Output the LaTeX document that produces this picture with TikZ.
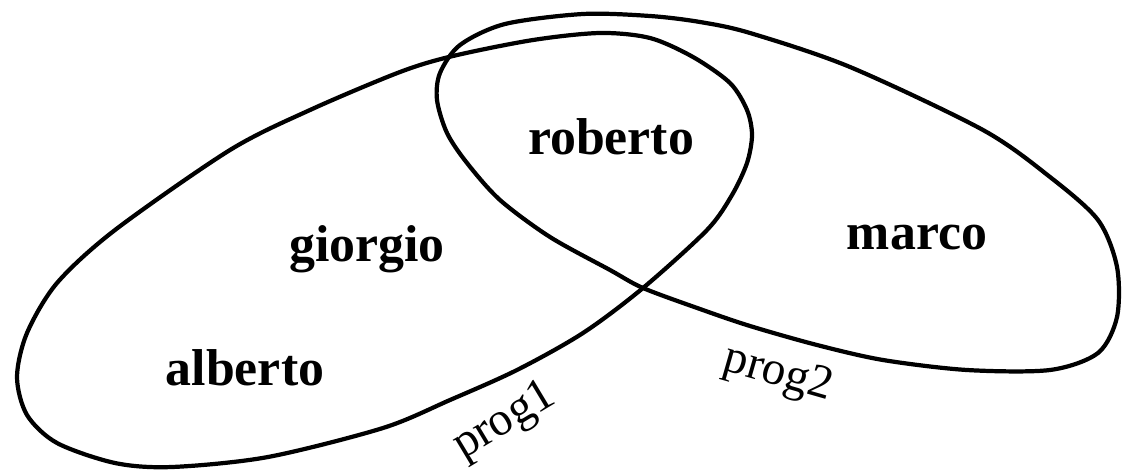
\documentclass[tikz,border=0pt]{standalone}
\usepackage{fontspec}
\setmainfont{Liberation Serif}
\begin{document}
\begin{tikzpicture}[x=0.02cm,y=-0.02cm]
        \tikzset{person/.style = {font=\fontsize{29.5}{31}\selectfont\bfseries}}
        \tikzset{setlabel/.style = {font=\fontsize{27}{29}\selectfont}}
        \tikzset{border/.style = {line width=2.4pt, line join=round}}
        \useasboundingbox (0,0) rectangle (1122,470);

        % prog1
        \draw[border] plot[smooth cycle, tension=0.5] coordinates {
            (600,33) (650,38) (693,57) (730,83) (747,110) (752,135) (747,163)
            (732,195) (707,230) (643,288) (583,333) (517,370) (450,400)
            (383,428) (268,457) (172,467) (115,463) (57,443) (27,415)
            (17,377) (27,333) (57,283) (115,230) (230,150) (310,110)
            (400,72) (453,56) (533,40)};
        % prog2
        \draw[border] plot[smooth cycle, tension=0.5] coordinates {
            (583,14) (650,16) (700,22) (750,33) (850,67) (983,130)
            (1050,177) (1098,220) (1117,267) (1117,317) (1098,353)
            (1050,370) (967,370) (883,360) (817,345) (750,326) (700,309)
            (643,288) (610,270) (550,237) (500,200) (467,163) (447,133)
            (437,100) (440,73) (460,45) (505,24)};

        \node[person] (roberto) at (611,137) {roberto};
        \node[person] (giorgio) at (367,249) {giorgio};
        \node[person] (marco) at (917,237) {marco};
        \node[person] (alberto) at (245,368) {alberto};

        \node[setlabel, rotate=31] (prog1) at (505,422) {prog1};
        \node[setlabel, rotate=-16] (prog2) at (778,375) {prog2};
    \end{tikzpicture}
\end{document}
